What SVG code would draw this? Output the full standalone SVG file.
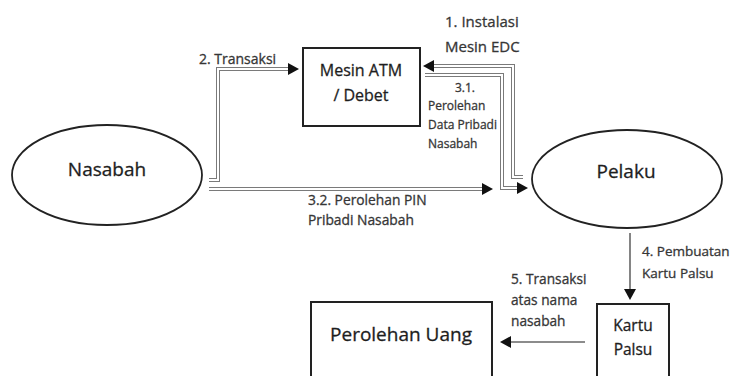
<svg xmlns="http://www.w3.org/2000/svg" width="731" height="376" viewBox="0 0 731 376">
<defs>
<marker id="arr" viewBox="0 0 11 12" refX="0" refY="6" markerWidth="11" markerHeight="12" markerUnits="userSpaceOnUse" orient="auto">
<path d="M0,0 L11,6 L0,12 z" fill="#111"/>
</marker>
<style>
.box{fill:#fff;stroke:#222;stroke-width:2}
.ell{fill:#fff;stroke:#222;stroke-width:1.8}
.node{font-family:"Open Sans","Noto Sans",sans-serif;fill:#1e1e1e;stroke:#1e1e1e;stroke-width:0.3}
.lbl{font-family:"Open Sans","Noto Sans",sans-serif;fill:#363636;stroke:#363636;stroke-width:0.3}
.dbl{fill:none;stroke:#7a7a7a;stroke-width:4}
.inn{fill:none;stroke:#fff;stroke-width:2}
.sgl{fill:none;stroke:#666;stroke-width:1.6}
</style>
</defs>
<rect width="731" height="376" fill="#fff"/>

<g id="connectors">
<path class="dbl" d="M209,180 H218 V69 H288" marker-end="url(#arr)"/>
<path class="inn" d="M209,180 H218 V69 H288"/>
<path class="dbl" d="M523,177 H513 V66 H434" marker-end="url(#arr)"/>
<path class="inn" d="M523,177 H513 V66 H434"/>
<path class="dbl" d="M425,75 H502 V188 H517" marker-end="url(#arr)"/>
<path class="inn" d="M425,75 H502 V188 H517"/>
<path class="dbl" d="M209,189 H482" marker-end="url(#arr)"/>
<path class="inn" d="M209,189 H482"/>
<path class="sgl" d="M630,233 V289" marker-end="url(#arr)"/>
<path class="sgl" d="M585,342 H511" marker-end="url(#arr)"/>
</g>

<g id="labels">
<text class="lbl" x="199" y="64" font-size="14">2. Transaksi</text>
<text class="lbl" x="445" y="27" font-size="15">1. Instalasi</text>
<text class="lbl" x="445" y="52" font-size="15">Mesin EDC</text>
<text class="lbl" x="465" y="92" font-size="12" text-anchor="middle">3.1.</text>
<text class="lbl" x="428" y="110" font-size="12">Perolehan</text>
<text class="lbl" x="428" y="129" font-size="12">Data Pribadi</text>
<text class="lbl" x="428" y="148" font-size="12">Nasabah</text>
<text class="lbl" x="308" y="205" font-size="13.8">3.2. Perolehan PIN</text>
<text class="lbl" x="308" y="225" font-size="13.8">Pribadi Nasabah</text>
<text class="lbl" x="642" y="256" font-size="13.5">4. Pembuatan</text>
<text class="lbl" x="642" y="278" font-size="13.5">Kartu Palsu</text>
<text class="lbl" x="511" y="284" font-size="13.7">5. Transaksi</text>
<text class="lbl" x="511" y="305" font-size="13.7">atas nama</text>
<text class="lbl" x="511" y="326" font-size="13.7">nasabah</text>
</g>

<g id="node-mesin">
<rect class="box" x="303" y="48" width="117" height="78"/>
<text class="node" x="361" y="76" font-size="16" text-anchor="middle">Mesin ATM</text>
<text class="node" x="361" y="101" font-size="16" text-anchor="middle">/ Debet</text>
</g>

<g id="node-nasabah">
<ellipse class="ell" cx="107" cy="175" rx="95" ry="50"/>
<text class="node" x="107" y="176" font-size="19" text-anchor="middle">Nasabah</text>
</g>

<g id="node-pelaku">
<ellipse class="ell" cx="627" cy="179" rx="95" ry="49"/>
<text class="node" x="626" y="178" font-size="19" text-anchor="middle">Pelaku</text>
</g>

<g id="node-uang">
<rect class="box" x="311" y="302" width="181" height="100"/>
<text class="node" x="401" y="341" font-size="19" text-anchor="middle">Perolehan Uang</text>
</g>

<g id="node-kartu">
<rect class="box" x="597" y="304" width="72" height="100"/>
<text class="node" x="633" y="331" font-size="15.5" text-anchor="middle">Kartu</text>
<text class="node" x="633" y="355" font-size="15.5" text-anchor="middle">Palsu</text>
</g>
</svg>
